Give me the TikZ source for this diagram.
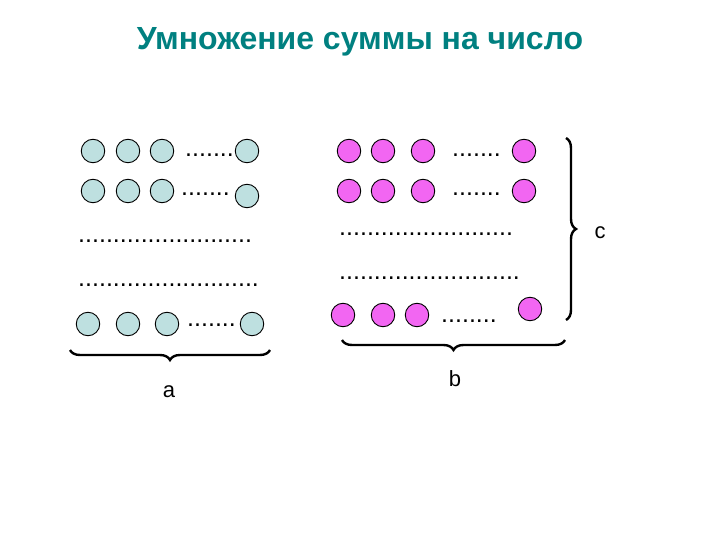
\documentclass[tikz,border=0pt]{standalone}
\usepackage{fontspec}
\setmainfont{Liberation Sans}
\usetikzlibrary{decorations.pathreplacing}
\definecolor{titleteal}{RGB}{0,128,128}
\definecolor{ballteal}{RGB}{190,224,224}
\definecolor{ballpink}{RGB}{242,102,242}
\tikzset{
  tealball/.style={circle,draw=black,line width=0.9pt,fill=ballteal,minimum size=23.5pt,inner sep=0pt},
  pinkball/.style={circle,draw=black,line width=0.9pt,fill=ballpink,minimum size=23.5pt,inner sep=0pt},
  dotrow/.style={inner sep=0pt,anchor=base west,font=\fontsize{25}{25}\selectfont},
  bracket/.style={decorate,line width=2.4pt,decoration={brace,amplitude=10pt}},
  lab/.style={font=\fontsize{22}{22}\selectfont}
}
\begin{document}
\begin{tikzpicture}[x=1pt,y=-1pt]
\useasboundingbox (0,0) rectangle (720,540);
\node[font=\bfseries\fontsize{32}{32}\selectfont,text=titleteal] (title) at (360,42) {Умножение суммы на число};

% left block
\node[tealball] (a11) at (93,151) {};
\node[tealball] (a12) at (128,151) {};
\node[tealball] (a13) at (162,151) {};
\node[dotrow] (ad1) at (185,157) {.......};
\node[tealball] (a14) at (247,151) {};
\node[tealball] (a21) at (93,191) {};
\node[tealball] (a22) at (128,191) {};
\node[tealball] (a23) at (162,191) {};
\node[dotrow] (ad2) at (181,196) {.......};
\node[tealball] (a24) at (247,196) {};
\node[dotrow] (ad3) at (78,242) {.........................};
\node[dotrow] (ad4) at (78,286) {..........................};
\node[tealball] (a51) at (88,324) {};
\node[tealball] (a52) at (128,324) {};
\node[tealball] (a53) at (167,324) {};
\node[dotrow] (ad5) at (187,326) {.......};
\node[tealball] (a54) at (252,324) {};

% right block
\node[pinkball] (b11) at (349,151) {};
\node[pinkball] (b12) at (383,151) {};
\node[pinkball] (b13) at (423,151) {};
\node[dotrow] (bd1) at (452,157) {.......};
\node[pinkball] (b14) at (524,151) {};
\node[pinkball] (b21) at (349,191) {};
\node[pinkball] (b22) at (383,191) {};
\node[pinkball] (b23) at (423,191) {};
\node[dotrow] (bd2) at (452,196) {.......};
\node[pinkball] (b24) at (524,191) {};
\node[dotrow] (bd3) at (339,236) {.........................};
\node[dotrow] (bd4) at (339,279) {..........................};
\node[pinkball] (b51) at (343,315) {};
\node[pinkball] (b52) at (383,315) {};
\node[pinkball] (b53) at (417,315) {};
\node[dotrow] (bd5) at (441,322) {........};
\node[pinkball] (b54) at (530,309) {};

% braces
\coordinate (abl) at (70,350);
\coordinate (abr) at (270,350);
\coordinate (bbl) at (342,340);
\coordinate (bbr) at (565,340);
\coordinate (cbt) at (566,138);
\coordinate (cbb) at (566,320);
\draw[bracket] (abr) -- (abl);
\draw[bracket] (bbr) -- (bbl);
\draw[bracket] (cbt) -- (cbb);
\node[lab] (la) at (169,392) {a};
\node[lab] (lb) at (455,379) {b};
\node[lab] (lc) at (600,233) {c};
\end{tikzpicture}
\end{document}
